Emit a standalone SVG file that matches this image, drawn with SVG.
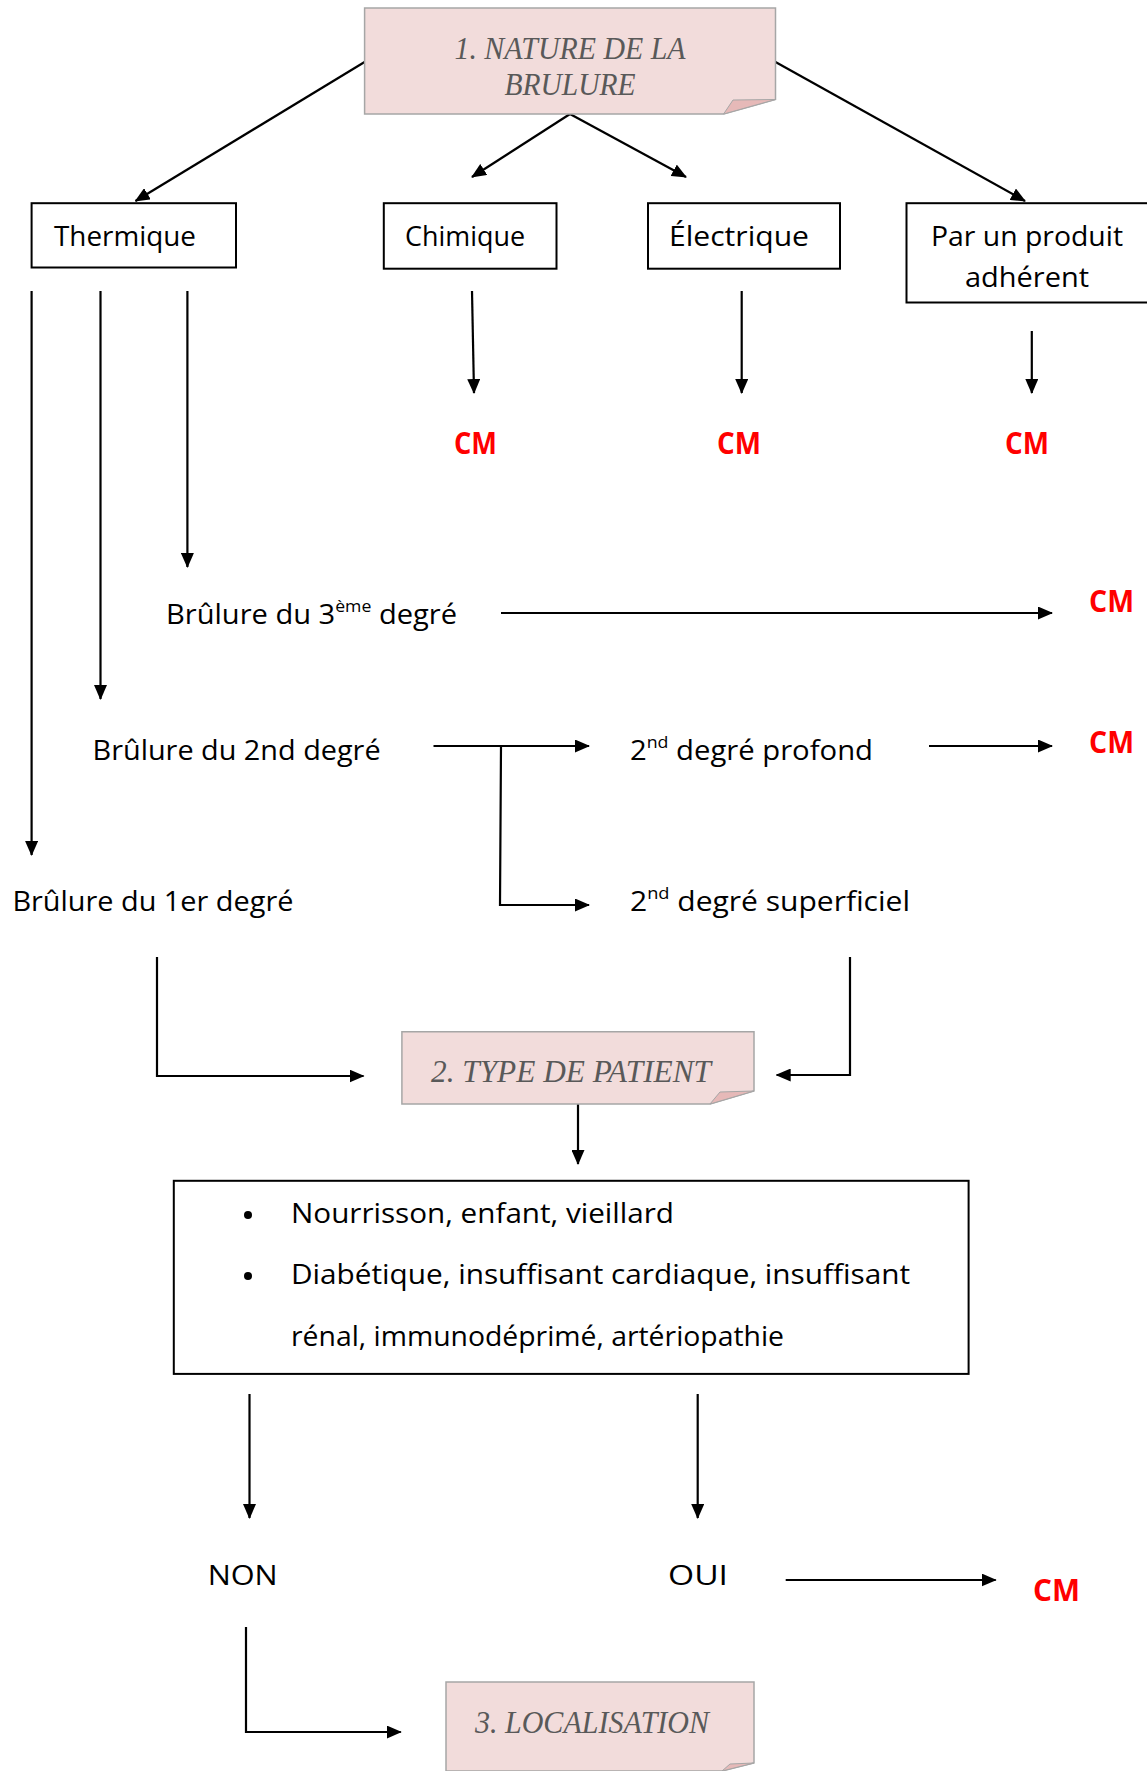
<svg xmlns="http://www.w3.org/2000/svg" width="1147" height="1771" viewBox="0 0 1147 1771">
<style>
.box{fill:#fff;stroke:#000;stroke-width:2}
.note{fill:#f2dcdb;stroke:#a6a6a6;stroke-width:1.5}
.fold{fill:#e6b9b8;stroke:#a6a6a6;stroke-width:1}
.ttl{font-family:"Liberation Serif",serif;font-style:italic;font-size:31px;fill:#595959}
.t{font-family:"Open Sans","Liberation Sans",sans-serif;font-size:28px;fill:#000}
.cm{font-family:"Open Sans","Liberation Sans",sans-serif;font-size:30px;font-weight:bold;fill:#ff0000}
.c{fill:none;stroke:#000;stroke-width:2.2;marker-end:url(#ah)}
</style>
<defs>
<marker id="ah" markerUnits="userSpaceOnUse" markerWidth="15" markerHeight="13" refX="14" refY="6.5" orient="auto">
<path d="M0,0 L15,6.5 L0,13 z" fill="#000"/>
</marker>
</defs>
<rect width="1147" height="1771" fill="#fff"/>

<g id="connectors">
<path class="c" d="M364.6,62 L135.5,201"/>
<path class="c" d="M570,114 L472,177"/>
<path class="c" d="M570,114 L686,177"/>
<path class="c" d="M775.5,62 L1025,201"/>
<path class="c" d="M472,291 L474,393"/>
<path class="c" d="M741.7,291 L741.7,393"/>
<path class="c" d="M1031.8,331 L1031.8,393"/>
<path class="c" d="M31.6,291 L31.6,855"/>
<path class="c" d="M100.5,291 L100.5,699"/>
<path class="c" d="M187.4,291 L187.4,567"/>
<path class="c" d="M501,613 L1052,613"/>
<path class="c" d="M433.5,746 L589,746"/>
<path class="c" d="M501,746 L500,905 L589,905"/>
<path class="c" d="M929,746 L1052,746"/>
<path class="c" d="M157,957 L157,1076 L363.5,1076" stroke-width="2.6"/>
<path class="c" d="M850,957 L850,1075 L776.7,1075" stroke-width="2.6"/>
<path class="c" d="M578,1104 L578,1164"/>
<path class="c" d="M249.5,1394 L249.5,1518"/>
<path class="c" d="M697.7,1394 L697.7,1518"/>
<path class="c" d="M785.7,1580 L995.7,1580" stroke-width="2.6"/>
<path class="c" d="M246,1627 L246,1732 L400.8,1732" stroke-width="2.6"/>
</g>

<g id="n-nature">
<path class="note" d="M364.6,8 L775.5,8 L775.5,99.5 L723.6,114 L364.6,114 z"/>
<path class="fold" d="M723.6,114 L733,100 L775.5,99.5 z"/>
<text class="ttl" x="570" y="58.7" text-anchor="middle" textLength="231" lengthAdjust="spacingAndGlyphs">1. NATURE DE LA</text>
<text class="ttl" x="570" y="94.8" text-anchor="middle" textLength="131" lengthAdjust="spacingAndGlyphs">BRULURE</text>
</g>

<g id="n-thermique">
<rect class="box" x="31.6" y="203.2" width="204.4" height="64.3"/>
<text class="t" x="54" y="246" textLength="142" lengthAdjust="spacingAndGlyphs">Thermique</text>
</g>
<g id="n-chimique">
<rect class="box" x="383.8" y="203.2" width="172.7" height="65.5"/>
<text class="t" x="405" y="246" textLength="120" lengthAdjust="spacingAndGlyphs">Chimique</text>
</g>
<g id="n-electrique">
<rect class="box" x="648" y="203.2" width="192" height="65.5"/>
<text class="t" x="669" y="246" textLength="140" lengthAdjust="spacingAndGlyphs">Électrique</text>
</g>
<g id="n-produit">
<rect class="box" x="906.5" y="203.2" width="245" height="99.3"/>
<text class="t" x="931" y="246" textLength="192" lengthAdjust="spacingAndGlyphs">Par un produit</text>
<text class="t" x="965" y="286.7" textLength="124" lengthAdjust="spacingAndGlyphs">adhérent</text>
</g>

<g id="n-cm1"><text class="cm" x="454" y="454" textLength="43" lengthAdjust="spacingAndGlyphs">CM</text></g>
<g id="n-cm2"><text class="cm" x="717" y="454" textLength="44" lengthAdjust="spacingAndGlyphs">CM</text></g>
<g id="n-cm3"><text class="cm" x="1005" y="454" textLength="44" lengthAdjust="spacingAndGlyphs">CM</text></g>

<g id="n-3eme">
<text class="t" x="166" y="624" textLength="291" lengthAdjust="spacingAndGlyphs">Brûlure du 3<tspan font-size="17" dy="-12">ème</tspan><tspan dy="12"> degré</tspan></text>
</g>
<g id="n-cm4"><text class="cm" x="1089" y="612" textLength="45" lengthAdjust="spacingAndGlyphs">CM</text></g>

<g id="n-2nd">
<text class="t" x="92.6" y="760" textLength="288" lengthAdjust="spacingAndGlyphs">Brûlure du 2nd degré</text>
</g>
<g id="n-profond">
<text class="t" x="630" y="760" textLength="243" lengthAdjust="spacingAndGlyphs">2<tspan font-size="17" dy="-12">nd</tspan><tspan dy="12"> degré profond</tspan></text>
</g>
<g id="n-cm5"><text class="cm" x="1089" y="753" textLength="45" lengthAdjust="spacingAndGlyphs">CM</text></g>

<g id="n-1er">
<text class="t" x="12.4" y="911" textLength="281" lengthAdjust="spacingAndGlyphs">Brûlure du 1er degré</text>
</g>
<g id="n-superficiel">
<text class="t" x="630" y="911" textLength="280" lengthAdjust="spacingAndGlyphs">2<tspan font-size="17" dy="-12">nd</tspan><tspan dy="12"> degré superficiel</tspan></text>
</g>

<g id="n-patient">
<path class="note" d="M401.9,1031.8 L754,1031.8 L754,1091 L710,1104 L401.9,1104 z"/>
<path class="fold" d="M710,1104 L720,1092 L754,1091 z"/>
<text class="ttl" x="571" y="1081.5" text-anchor="middle" textLength="280" lengthAdjust="spacingAndGlyphs">2. TYPE DE PATIENT</text>
</g>

<g id="n-criteres">
<rect class="box" x="173.8" y="1180.8" width="794.8" height="193.1"/>
<circle cx="248" cy="1215" r="4" fill="#000"/>
<circle cx="248" cy="1276" r="4" fill="#000"/>
<text class="t" x="291" y="1222.6" textLength="383" lengthAdjust="spacingAndGlyphs">Nourrisson, enfant, vieillard</text>
<text class="t" x="291" y="1283.6" textLength="619" lengthAdjust="spacingAndGlyphs">Diabétique, insuffisant cardiaque, insuffisant</text>
<text class="t" x="291" y="1345.7" textLength="493" lengthAdjust="spacingAndGlyphs">rénal, immunodéprimé, artériopathie</text>
</g>

<g id="n-non"><text class="t" x="207.7" y="1585" textLength="70" lengthAdjust="spacingAndGlyphs">NON</text></g>
<g id="n-oui"><text class="t" x="668" y="1585" textLength="60" lengthAdjust="spacingAndGlyphs">OUI</text></g>
<g id="n-cm6"><text class="cm" x="1033" y="1601" textLength="47" lengthAdjust="spacingAndGlyphs">CM</text></g>

<g id="n-localisation">
<path class="note" d="M446,1682 L754,1682 L754,1763 L722,1771 L446,1771 z"/>
<path class="fold" d="M722,1771 L730,1764 L754,1763 z"/>
<text class="ttl" x="592" y="1733" text-anchor="middle" textLength="234" lengthAdjust="spacingAndGlyphs">3. LOCALISATION</text>
</g>
</svg>
